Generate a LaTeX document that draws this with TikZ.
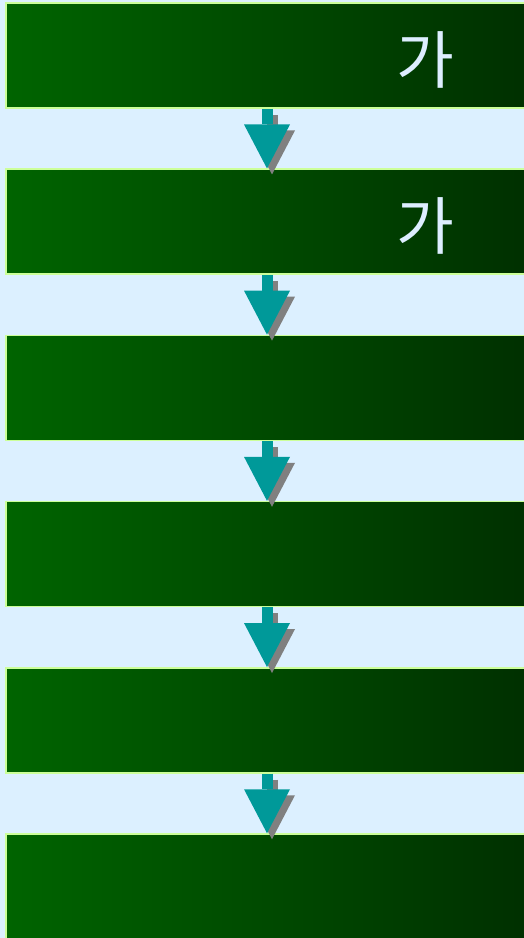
\documentclass[tikz,border=0pt]{standalone}
\usepackage{fontspec}
\newfontfamily\kr{Noto Sans CJK KR}
\usetikzlibrary{arrows.meta}
\definecolor{bgblue}{RGB}{220,240,255}
\definecolor{gleft}{RGB}{0,100,0}
\definecolor{gright}{RGB}{0,48,0}
\definecolor{rim}{RGB}{204,255,153}
\definecolor{flowteal}{RGB}{0,153,153}
\definecolor{flowshade}{RGB}{128,128,128}
\definecolor{glyph}{RGB}{221,238,255}

\begin{document}
\begin{tikzpicture}[x=1bp,y=-1bp]
  \def\h{166.2}
  \def\cx{267}

\tikzstyle{stage}=[rectangle,draw=rim,line width=1.5bp,left color=gleft,right color=gright,minimum width=522bp,minimum height=105bp,inner sep=0pt]
\tikzstyle{flow}=[line width=11bp,-{Triangle[width=46bp,length=44bp,line width=0pt]}]
\tikzstyle{glyphtext}=[text=glyph,font=\kr\fontsize{63}{70}\selectfont,inner sep=0pt]
\useasboundingbox (0,0) rectangle (524,938);
\clip (0,0) rectangle (524,938);
\fill[bgblue] (0,0) rectangle (524,938);
\node[stage] (S1) at (\cx,55.5+0*\h) {};
\node[stage] (S2) at (\cx,55.5+1*\h) {};
\node[stage] (S3) at (\cx,55.5+2*\h) {};
\node[stage] (S4) at (\cx,55.5+3*\h) {};
\node[stage] (S5) at (\cx,55.5+4*\h) {};
\node[stage] (S6) at (\cx,55.5+5*\h) {};
\node[glyphtext] (L1) at (425,60) {가};
\node[glyphtext] (L2) at (425,60+\h) {가};
% shadows first, then the arrows
\draw[flow,flowshade] ([shift={(5,6)}]S1.south) -- ([shift={(5,6)}]S2.north);
\draw[flow,flowteal] (S1.south) -- (S2.north);
\draw[flow,flowshade] ([shift={(5,6)}]S2.south) -- ([shift={(5,6)}]S3.north);
\draw[flow,flowteal] (S2.south) -- (S3.north);
\draw[flow,flowshade] ([shift={(5,6)}]S3.south) -- ([shift={(5,6)}]S4.north);
\draw[flow,flowteal] (S3.south) -- (S4.north);
\draw[flow,flowshade] ([shift={(5,6)}]S4.south) -- ([shift={(5,6)}]S5.north);
\draw[flow,flowteal] (S4.south) -- (S5.north);
\draw[flow,flowshade] ([shift={(5,6)}]S5.south) -- ([shift={(5,6)}]S6.north);
\draw[flow,flowteal] (S5.south) -- (S6.north);
\end{tikzpicture}
\end{document}
